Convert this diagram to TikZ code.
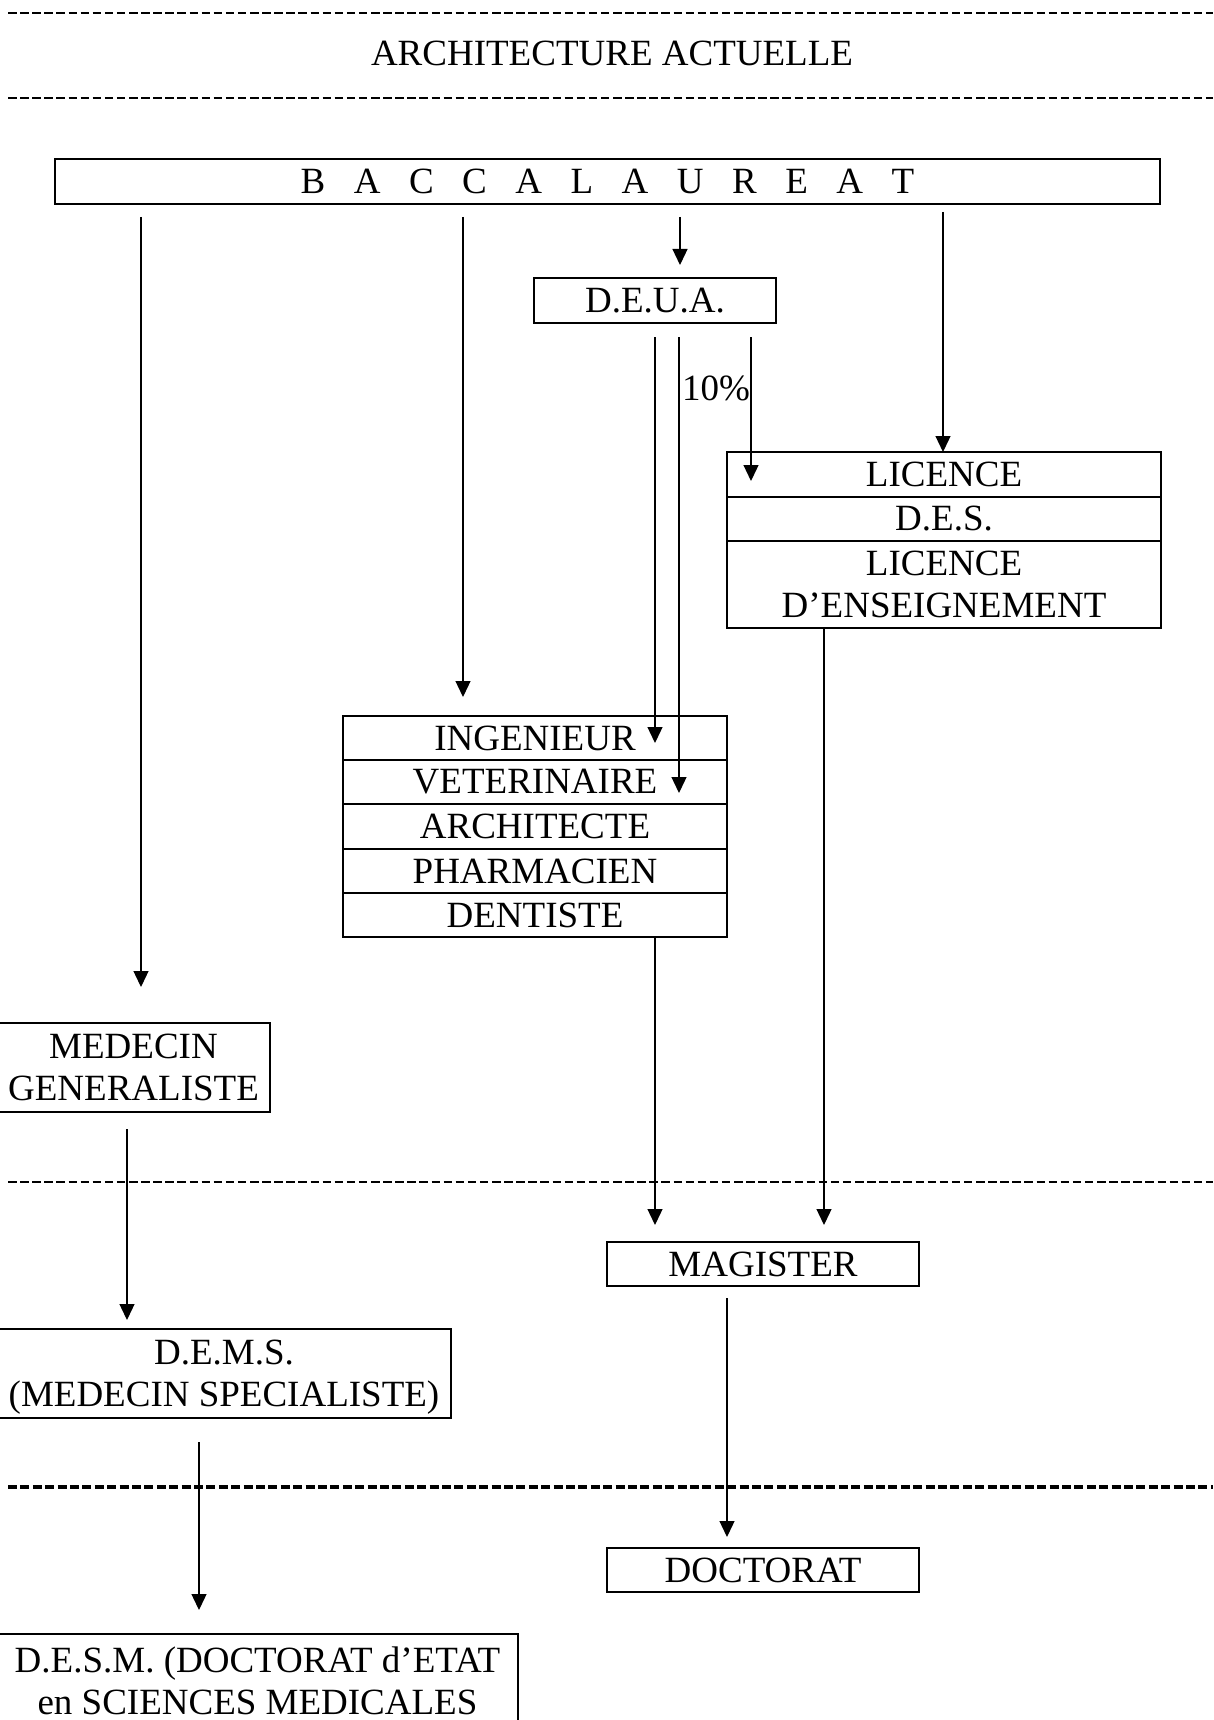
\documentclass[tikz,border=0pt]{standalone}
\usepackage{fontspec}
\setmainfont{Liberation Serif}
\usetikzlibrary{arrows.meta}
\newcommand\bigfs{\fontsize{37}{42}\selectfont}
\newcommand\bacgap{\hspace{28.5pt}}
\begin{document}
\begin{tikzpicture}[x=1pt,y=-1pt,
  box/.style={draw, line width=1.8pt, inner sep=0pt, font=\bigfs, align=center},
  arr/.style={line width=1.3pt, -{Triangle[width=15pt,length=16pt]}},
  sep/.style={line width=2pt, dash pattern=on 8.5pt off 3.6pt},
  sepbold/.style={line width=3.4pt, dash pattern=on 9pt off 3.4pt}]
\useasboundingbox (0,0) rectangle (1213,1720);
\fill[white] (0,0) rectangle (1213,1720);
% separators
\draw[sep] (8,13) -- (1213,13);
\draw[sep] (8,98) -- (1213,98);
\draw[sep] (8,1182) -- (1213,1182);
\draw[sepbold] (8,1487) -- (1213,1487);
% title
\node[font=\bigfs, inner sep=0pt] (title) at (612,53) {ARCHITECTURE ACTUELLE};
% boxes
\node[box, minimum width=1105pt, minimum height=45pt] (bac) at (607.5,181.5)
  {B\bacgap A\bacgap C\bacgap C\bacgap A\bacgap L\bacgap A\bacgap U\bacgap R\bacgap E\bacgap A\bacgap T};
\node[box, minimum width=242pt, minimum height=45pt] (deua) at (655,300.5) {D.E.U.A.};
\node[box, minimum width=434pt, minimum height=45pt] (lic) at (944,474.5) {LICENCE};
\node[box, minimum width=434pt, minimum height=44pt] (des) at (944,519) {D.E.S.};
\node[box, minimum width=434pt, minimum height=87pt] (licens) at (944,584.5) {LICENCE\\D’ENSEIGNEMENT};
\node[box, minimum width=384pt, minimum height=44pt] (ing) at (535,738) {INGENIEUR};
\node[box, minimum width=384pt, minimum height=44pt] (vet) at (535,782) {VETERINAIRE};
\node[box, minimum width=384pt, minimum height=45pt] (arch) at (535,826.5) {ARCHITECTE};
\node[box, minimum width=384pt, minimum height=44pt] (pharm) at (535,871) {PHARMACIEN};
\node[box, minimum width=384pt, minimum height=44pt] (dent) at (535,915) {DENTISTE};
\node[box, minimum width=273pt, minimum height=89pt] (medg) at (133.5,1067.5) {MEDECIN\\GENERALISTE};
\node[box, minimum width=312pt, minimum height=44pt] (mag) at (763,1264) {MAGISTER};
\node[box, minimum width=454pt, minimum height=89pt, text depth=0pt] (dems) at (224,1373.5) {D.E.M.S.\\(MEDECIN SPECIALISTE)};
\node[box, minimum width=312pt, minimum height=44pt] (doc) at (763,1570) {DOCTORAT};
\node[box, minimum width=521pt, minimum height=94pt] (desm) at (257.5,1681) {D.E.S.M. (DOCTORAT d’ETAT\\en SCIENCES MEDICALES};
\node[font=\bigfs, anchor=west, inner sep=0pt] (pct) at (682,388) {10\%};
% connector ends
\coordinate (b1) at (141,217);  \coordinate (m1) at (141,987);
\coordinate (b2) at (463,217);  \coordinate (i1) at (463,697);
\coordinate (b3) at (680,217);  \coordinate (d1) at (680,265);
\coordinate (b4) at (943,212);  \coordinate (l1) at (943,452);
\coordinate (d2) at (655,337);  \coordinate (i2) at (655,743);
\coordinate (d3) at (679,337);  \coordinate (v2) at (679,793);
\coordinate (d4) at (751,337);  \coordinate (l2) at (751,481);
\coordinate (l3) at (824,628);  \coordinate (g1) at (824,1225);
\coordinate (t1) at (655,937);  \coordinate (g2) at (655,1225);
\coordinate (mg1) at (127,1129); \coordinate (ds1) at (127,1320);
\coordinate (ma1) at (727,1298); \coordinate (dc1) at (727,1537);
\coordinate (ds2) at (199,1442); \coordinate (dm1) at (199,1610);
% connectors
\draw[arr] (b1) -- (m1);
\draw[arr] (b2) -- (i1);
\draw[arr] (b3) -- (d1);
\draw[arr] (b4) -- (l1);
\draw[arr] (d2) -- (i2);
\draw[arr] (d3) -- (v2);
\draw[arr] (d4) -- (l2);
\draw[arr] (l3) -- (g1);
\draw[arr] (t1) -- (g2);
\draw[arr] (mg1) -- (ds1);
\draw[arr] (ma1) -- (dc1);
\draw[arr] (ds2) -- (dm1);
\end{tikzpicture}
\end{document}
